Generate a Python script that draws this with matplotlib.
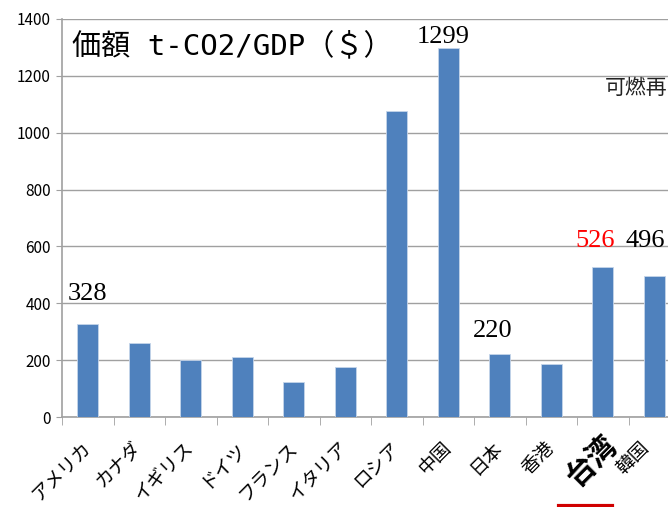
import matplotlib
matplotlib.use('Agg')
import matplotlib.pyplot as plt
import matplotlib.transforms as mtransforms
from matplotlib.lines import Line2D

plt.rcParams['font.family'] = ['Noto Sans CJK JP', 'DejaVu Sans']

countries = ['アメリカ', 'カナダ', 'イギリス', 'ドイツ', 'フランス', 'イタリア',
             'ロシア', '中国', '日本', '香港', '台湾', '韓国']
values = [328, 262, 200, 210, 122, 175, 1078, 1299, 220, 188, 526, 496]
yticks = [0, 200, 400, 600, 800, 1000, 1200, 1400]

# hand placed value labels: (index, text, colour, dx px, dy px above bar)
value_labels = [(0, '328', 'black', 0, 24),
                (7, '1299', 'black', -5, 5),
                (8, '220', 'black', -7, 17),
                (10, '526', 'red', -8, 20),
                (11, '496', 'black', -9, 29)]

bar_color = '#4F81BD'
grid_color = '#a0a0a0'

fig = plt.figure(figsize=(6.68, 5.07), dpi=100)
ax = fig.add_axes([62 / 668, 1 - 417 / 507, 618 / 668, 398 / 507])

x = list(range(len(countries)))
ax.bar(x, values, width=0.41, color=bar_color, edgecolor='#c5d5ea',
       linewidth=0.6, zorder=3)

ax.set_xlim(-0.5, len(countries) - 0.5)
ax.set_ylim(0, 1400)
ax.set_yticks(yticks)
ax.yaxis.grid(True, color=grid_color, linewidth=1, zorder=0)
ax.tick_params(axis='y', length=4, color=grid_color, labelsize=11, pad=4)

for s in ['top', 'right']:
  ax.spines[s].set_visible(False)
for s in ['left', 'bottom']:
  ax.spines[s].set_color(grid_color)
  ax.spines[s].set_linewidth(1.2)

# ticks at category boundaries, labels at centres
ax.set_xticks([i - 0.5 for i in range(len(countries) + 1)], minor=True)
ax.tick_params(axis='x', which='minor', length=6, color=grid_color)
ax.set_xticks(x)
ax.set_xticklabels(countries, rotation=45, ha='right', va='center',
                   rotation_mode='anchor', fontsize=13.5)
ax.tick_params(axis='x', which='major', length=0, pad=20)

labels = ax.get_xticklabels()
labels[10].set_fontsize(21)
labels[10].set_fontweight('bold')
labels[10].set_transform(labels[10].get_transform() +
                         mtransforms.ScaledTranslation(0.09, 0.04, fig.dpi_scale_trans))
labels[11].set_transform(labels[11].get_transform() +
                         mtransforms.ScaledTranslation(-0.08, 0.0, fig.dpi_scale_trans))

for i, txt, col, dx, dy in value_labels:
  ax.annotate(txt, xy=(i, values[i]), xytext=(dx * 0.72, dy * 0.72),
              textcoords='offset points', ha='center', va='baseline',
              fontsize=19, color=col, family='Liberation Serif', zorder=5)

ax.text(0.016, 0.933, '価額 t-CO2/GDP（＄）', transform=ax.transAxes,
        fontsize=21, va='center', ha='left', zorder=5,
        family=['DejaVu Sans Mono', 'Noto Sans CJK JP'])

fig.text(605 / 668, 1 - 88 / 507, '可燃再', fontsize=15, va='center',
         ha='left', color='#222222')

# red underline below 台湾
fig.add_artist(Line2D([559 / 668, 612 / 668], [1 - 505.5 / 507, 1 - 505.5 / 507],
                      color='#d00000', linewidth=3, transform=fig.transFigure))

fig.savefig('out.png', dpi=100)
